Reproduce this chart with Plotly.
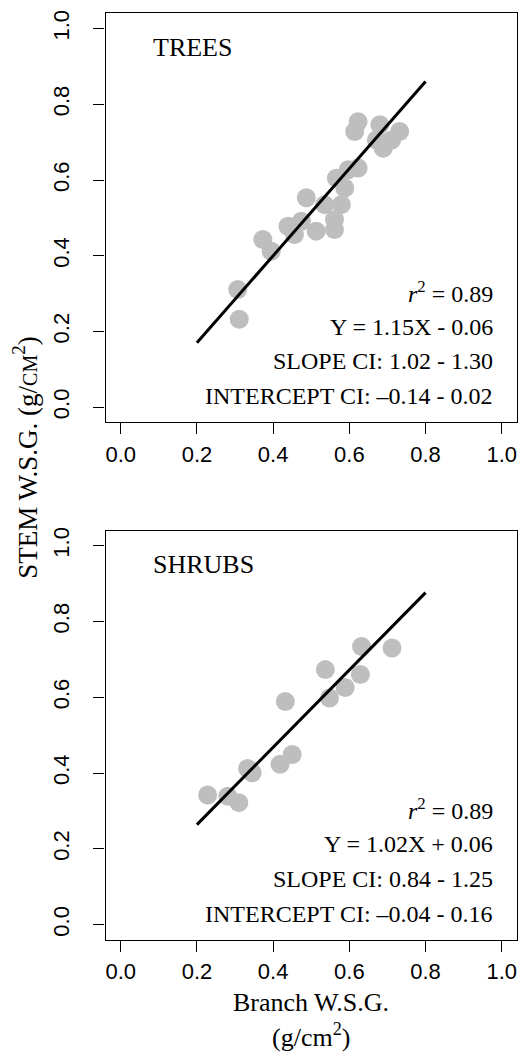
import plotly.graph_objects as go

# ---- data ----
trees_x = [0.623, 0.614, 0.680, 0.732, 0.671, 0.689, 0.711, 0.623, 0.597, 0.566,
           0.588, 0.487, 0.535, 0.579, 0.561, 0.474, 0.439, 0.456, 0.513, 0.561,
           0.373, 0.395, 0.307, 0.311]
trees_y = [0.754, 0.728, 0.746, 0.728, 0.706, 0.684, 0.706, 0.632, 0.627, 0.605,
           0.579, 0.553, 0.535, 0.535, 0.496, 0.491, 0.478, 0.456, 0.465, 0.469,
           0.443, 0.412, 0.311, 0.232]
shrubs_x = [0.632, 0.712, 0.537, 0.629, 0.589, 0.548, 0.432, 0.450, 0.418, 0.333,
            0.345, 0.228, 0.281, 0.310]
shrubs_y = [0.734, 0.730, 0.673, 0.660, 0.626, 0.598, 0.589, 0.449, 0.423, 0.412,
            0.401, 0.342, 0.339, 0.322]

trees_fit = (1.15, -0.06)
shrubs_fit = (1.02, 0.06)
fit_x = [0.2, 0.8]

trees_stats = ["<i>r</i><sup>2</sup> = 0.89", "Y = 1.15X - 0.06",
               "SLOPE CI: 1.02 - 1.30", "INTERCEPT CI: \u20130.14 - 0.02"]
shrubs_stats = ["<i>r</i><sup>2</sup> = 0.89", "Y = 1.02X + 0.06",
                "SLOPE CI: 0.84 - 1.25", "INTERCEPT CI: \u20130.04 - 0.16"]
stat_y = [0.305, 0.213, 0.121, 0.029]

tick_vals = [0.0, 0.2, 0.4, 0.6, 0.8, 1.0]
tick_text = ["0.0", "0.2", "0.4", "0.6", "0.8", "1.0"]

W, H = 528, 1059
SERIF = "Liberation Serif, Times New Roman, serif"
SANS = "Liberation Sans, Arial, sans-serif"
PT_COLOR = "#BEBEBE"

fig = go.Figure()

panels = [
    ("x", "y", trees_x, trees_y, trees_fit, "TREES", trees_stats),
    ("x2", "y2", shrubs_x, shrubs_y, shrubs_fit, "SHRUBS", shrubs_stats),
]

for xa, ya, px_, py_, (b, a), name, stats in panels:
    fig.add_trace(go.Scatter(x=px_, y=py_, mode="markers", xaxis=xa, yaxis=ya,
                             marker=dict(size=19, color=PT_COLOR, line=dict(width=0)),
                             showlegend=False, hoverinfo="skip"))
    fig.add_trace(go.Scatter(x=fit_x, y=[b * v + a for v in fit_x], mode="lines",
                             xaxis=xa, yaxis=ya, line=dict(color="black", width=3),
                             showlegend=False, hoverinfo="skip"))
    fig.add_annotation(x=0.079, y=0.95, xref=xa, yref=ya, text=name, showarrow=False,
                       xanchor="left", yanchor="middle",
                       font=dict(family=SERIF, size=26, color="black"))
    for s, yy in zip(stats, stat_y):
        fig.add_annotation(x=0.982, y=yy, xref=xa, yref=ya, text=s, showarrow=False,
                           xanchor="right", yanchor="middle",
                           font=dict(family=SERIF, size=24, color="black"))

xdom = [105.5 / W, 517 / W]
ydom_top = [1 - 420.5 / H, 1 - 10.5 / H]
ydom_bot = [1 - 939.5 / H, 1 - 529 / H]

axis_common = dict(range=[-0.04, 1.04], showgrid=False, zeroline=False,
                   showline=True, mirror=True, linecolor="black", linewidth=1.3,
                   ticks="outside", ticklen=11, tickwidth=1.3, tickcolor="black",
                   tickvals=tick_vals, ticktext=tick_text,
                   tickfont=dict(family=SANS, size=22, color="black"))

fig.update_layout(
    width=W, height=H,
    margin=dict(l=0, r=0, t=0, b=0),
    paper_bgcolor="white", plot_bgcolor="white",
    xaxis=dict(domain=xdom, anchor="y", ticklabelstandoff=1, **axis_common),
    yaxis=dict(domain=ydom_top, anchor="x", tickangle=-90, ticklabelstandoff=16, **axis_common),
    xaxis2=dict(domain=xdom, anchor="y2", ticklabelstandoff=1, **axis_common),
    yaxis2=dict(domain=ydom_bot, anchor="x2", tickangle=-90, ticklabelstandoff=16, **axis_common),
)

# axis titles
fig.add_annotation(x=25 / W, y=1 - 456 / H, xref="paper", yref="paper",
                   text="STEM W.S.G. (g/<span style='font-size:20px'>CM</span><sup>2</sup>)",
                   textangle=-90, showarrow=False, xanchor="center", yanchor="middle",
                   font=dict(family=SERIF, size=27, color="black"))
fig.add_annotation(x=311 / W, y=1 - 1002 / H, xref="paper", yref="paper",
                   text="Branch W.S.G.", showarrow=False, xanchor="center", yanchor="middle",
                   font=dict(family=SERIF, size=26, color="black"))
fig.add_annotation(x=311 / W, y=1 - 1035 / H, xref="paper", yref="paper",
                   text="(g/cm<sup>2</sup>)", showarrow=False, xanchor="center", yanchor="middle",
                   font=dict(family=SERIF, size=26, color="black"))

fig.write_html("out.html",
               config={"displayModeBar": False},
               post_script="document.body.style.margin='0';document.body.style.overflow='hidden';")
